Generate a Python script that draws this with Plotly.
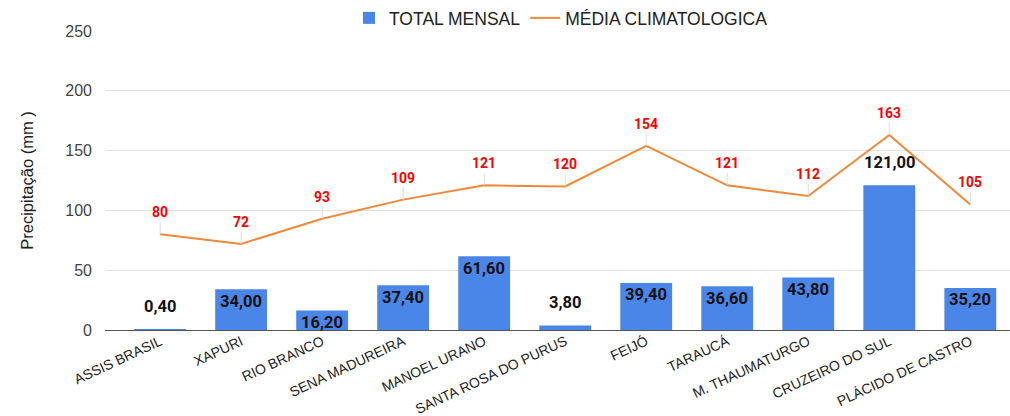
import plotly.graph_objects as go

categories = ["ASSIS BRASIL", "XAPURI", "RIO BRANCO", "SENA MADUREIRA", "MANOEL URANO",
              "SANTA ROSA DO PURUS", "FEIJÓ", "TARAUCÁ", "M. THAUMATURGO",
              "CRUZEIRO DO SUL", "PLÁCIDO DE CASTRO"]
total_mensal = [0.40, 34.00, 16.20, 37.40, 61.60, 3.80, 39.40, 36.60, 43.80, 121.00, 35.20]
media_climatologica = [80, 72, 93, 109, 121, 120, 154, 121, 112, 163, 105]
bar_label_outside = [True, False, False, False, False, True, False, False, False, True, False]
y_ticks = [0, 50, 100, 150, 200, 250]

BAR_COLOR = "#4a86e8"
LINE_COLOR = "#f0883a"

fig = go.Figure()
fig.add_trace(go.Bar(
    x=categories, y=total_mensal, name="TOTAL MENSAL",
    marker=dict(color=BAR_COLOR, line=dict(width=0)),
    width=0.64,
))
fig.add_trace(go.Scatter(
    x=categories, y=media_climatologica, name="MÉDIA CLIMATOLOGICA",
    mode="lines", line=dict(color=LINE_COLOR, width=2),
))

annotations = []
for c, v, out in zip(categories, total_mensal, bar_label_outside):
    annotations.append(dict(
        x=c, y=v, xref="x", yref="y", showarrow=False,
        text="<b>" + f"{v:.2f}".replace(".", ",") + "</b>",
        font=dict(family="Roboto, Arial", size=16.5, color="#111"),
        yanchor="middle", yshift=(23 if out else -12),
    ))
for c, v in zip(categories, media_climatologica):
    annotations.append(dict(
        x=c, y=v, xref="x", yref="y", showarrow=True,
        ax=0, ay=-22, arrowhead=0, arrowwidth=1, arrowcolor="#dddddd",
        standoff=0, startstandoff=0,
        text="<b>" + str(v) + "</b>",
        font=dict(family="Roboto, Arial", size=14, color="#ff0000"),
    ))

fig.update_layout(
    width=1010, height=416,
    margin=dict(l=105, r=0, t=31, b=86, autoexpand=False),
    paper_bgcolor="white", plot_bgcolor="white",
    font=dict(family="Arial", color="#222"),
    showlegend=True,
    legend=dict(orientation="h", x=561 / 1010, xref="container", xanchor="center",
                y=(416 - 18) / 416, yref="container", yanchor="middle",
                font=dict(size=17.5, color="#222"), itemwidth=30, traceorder="normal",
                bgcolor="rgba(0,0,0,0)"),
    annotations=annotations,
    xaxis=dict(
        range=[-0.68, 10.49], tickangle=-25, tickfont=dict(size=14, color="#222"),
        showgrid=False, showline=False, ticks="",
    ),
    yaxis=dict(
        range=[0, 250], tickvals=y_ticks, tickfont=dict(size=16, color="#444"),
        showgrid=True, gridcolor="#e0e0e0", gridwidth=1,
        zeroline=True, zerolinecolor="#555", zerolinewidth=1,
        title=dict(text="Precipitação (mm )", font=dict(size=16.5, color="#222"), standoff=27),
        ticks="", ticklabelstandoff=12,
    ),
)

fig.write_html("out.html", config={"displayModeBar": False},
               post_script="document.body.style.margin='0';")
